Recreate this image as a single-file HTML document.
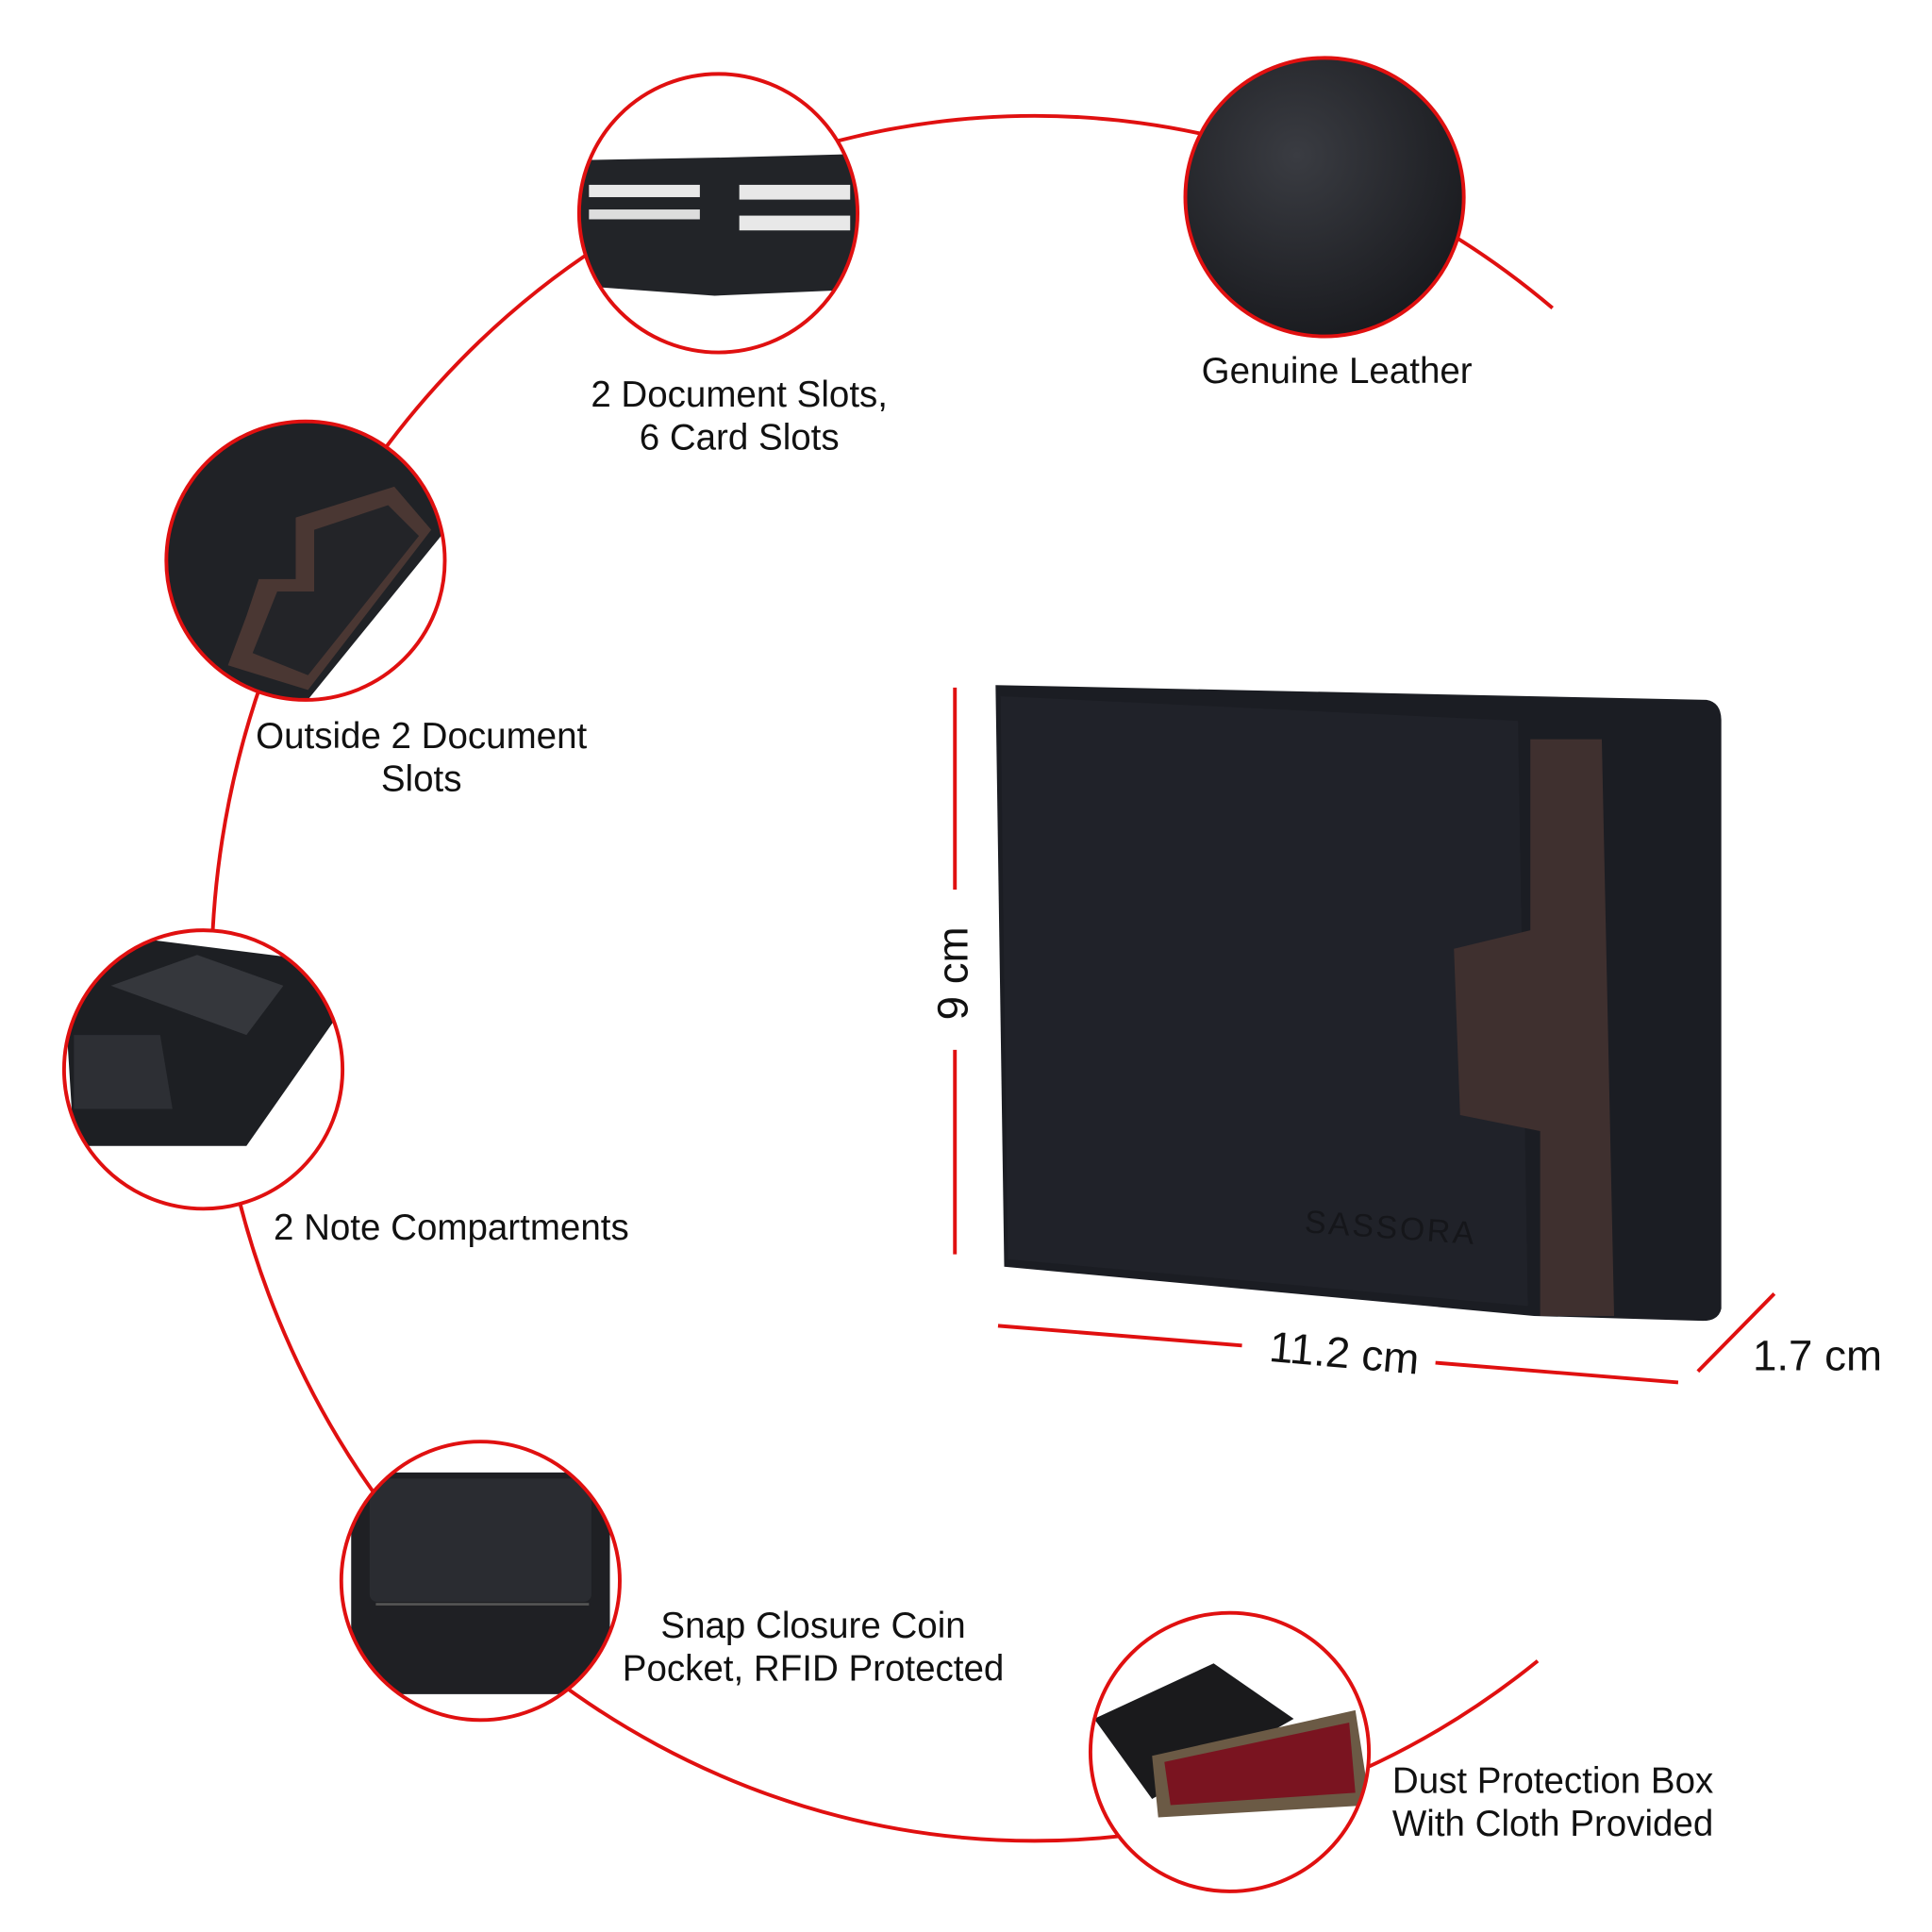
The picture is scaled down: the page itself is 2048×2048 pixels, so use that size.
<!DOCTYPE html>
<html><head><meta charset="utf-8"><style>
html,body{margin:0;padding:0;background:#fff;}
svg{display:block;}
text{font-family:"Liberation Sans",sans-serif;fill:#111;}
</style></head><body>
<svg width="2048" height="2048" viewBox="0 0 1568 1568" xmlns="http://www.w3.org/2000/svg">
<defs>
<radialGradient id="lg" cx="40%" cy="35%" r="75%"><stop offset="0" stop-color="#3a3c42"/><stop offset="1" stop-color="#16171b"/></radialGradient>
<clipPath id="c1"><circle cx="583" cy="173" r="112"/></clipPath>
<clipPath id="c3"><circle cx="248" cy="455" r="112"/></clipPath>
<clipPath id="c4"><circle cx="165" cy="868" r="112"/></clipPath>
<clipPath id="c5"><circle cx="390" cy="1283" r="112"/></clipPath>
<clipPath id="c6"><circle cx="998" cy="1422" r="112"/></clipPath>
</defs>
<!-- big arc -->
<path d="M1260 250 A668 700 0 1 0 1248 1348" fill="none" stroke="#e01010" stroke-width="3"/>

<circle cx="583" cy="173" r="113" fill="#fff"/>
<g clip-path="url(#c1)">
<path d="M470 130 L580 128 L695 125 L695 235 L580 240 L470 232Z" fill="#222428"/>
<rect x="478" y="150" width="90" height="10" fill="#e8e8e8"/>
<rect x="600" y="150" width="90" height="12" fill="#e8e8e8"/>
<rect x="600" y="175" width="90" height="12" fill="#e8e8e8"/>
<rect x="478" y="170" width="90" height="8" fill="#ddd"/>
</g>
<circle cx="583" cy="173" r="113" fill="none" stroke="#e01010" stroke-width="3"/>

<circle cx="1075" cy="160" r="113" fill="url(#lg)" stroke="#e01010" stroke-width="3"/>

<circle cx="248" cy="455" r="113" fill="#fff"/>
<g clip-path="url(#c3)">
<path d="M130 340 L330 340 L362 430 L240 580 L130 560Z" fill="#202226"/>
<path d="M210 470 L240 470 L240 420 L320 395 L350 430 L250 560 L185 540 L200 500 Z" fill="#4a3733"/>
<path d="M225 480 L255 480 L255 430 L315 410 L340 435 L250 548 L205 530Z" fill="#232428"/>
</g>
<circle cx="248" cy="455" r="113" fill="none" stroke="#e01010" stroke-width="3"/>

<circle cx="165" cy="868" r="113" fill="#fff"/>
<g clip-path="url(#c4)">
<path d="M52 800 L100 760 L260 780 L270 830 L200 930 L60 930Z" fill="#1d1f23"/>
<path d="M60 840 L130 840 L140 900 L60 900Z" fill="#2d2f34"/>
<path d="M90 800 L160 775 L230 800 L200 840Z" fill="#35373c"/>
</g>
<circle cx="165" cy="868" r="113" fill="none" stroke="#e01010" stroke-width="3"/>

<circle cx="390" cy="1283" r="113" fill="#fff"/>
<g clip-path="url(#c5)">
<rect x="285" y="1195" width="210" height="180" rx="10" fill="#1f2024"/>
<rect x="300" y="1200" width="180" height="100" rx="6" fill="#2a2c31"/>
<line x1="305" y1="1302" x2="478" y2="1302" stroke="#555" stroke-width="2"/>
</g>
<circle cx="390" cy="1283" r="113" fill="none" stroke="#e01010" stroke-width="3"/>

<circle cx="998" cy="1422" r="113" fill="#fff"/>
<g clip-path="url(#c6)">
<path d="M888 1395 L985 1350 L1050 1395 L935 1460Z" fill="#1a1a1c"/>
<path d="M935 1425 L1100 1388 L1112 1465 L940 1475Z" fill="#6b5a45"/>
<path d="M945 1430 L1095 1398 L1100 1455 L950 1465Z" fill="#7a1420"/>
</g>
<circle cx="998" cy="1422" r="113" fill="none" stroke="#e01010" stroke-width="3"/>

<path d="M808 556 L1385 568 Q1397 570 1397 585 L1397 1062 Q1395 1072 1382 1072 L1245 1068 L815 1028Z" fill="#1b1d23"/>
<path d="M812 565 L1232 585 L1240 1060 L818 1022Z" fill="#202229"/>
<path d="M1242 600 L1300 600 L1310 1068 L1250 1068 L1250 918 L1185 905 L1180 770 L1242 755Z" fill="#3f302f"/>
<text x="1128" y="1005" font-size="26" style="fill:#15161a" transform="rotate(4 1128 1005)" text-anchor="middle" letter-spacing="2">SASSORA</text>

<g stroke="#e01010" stroke-width="3">
<line x1="775" y1="558" x2="775" y2="722"/>
<line x1="775" y1="852" x2="775" y2="1018"/>
<line x1="810" y1="1076" x2="1008" y2="1092"/>
<line x1="1165" y1="1106" x2="1362" y2="1122"/>
<line x1="1378" y1="1113" x2="1440" y2="1050"/>
</g>
<text x="785" y="790" font-size="35" text-anchor="middle" transform="rotate(-90 785 790)">9 cm</text>
<text x="1090" y="1110" font-size="35" text-anchor="middle" transform="rotate(5 1090 1110)">11.2 cm</text>
<text x="1475" y="1112" font-size="35" text-anchor="middle">1.7 cm</text>

<g font-size="29.5">
<text x="600" y="330" text-anchor="middle">2 Document Slots,</text>
<text x="600" y="365" text-anchor="middle">6 Card Slots</text>
<text x="1085" y="311" text-anchor="middle">Genuine Leather</text>
<text x="342" y="607" text-anchor="middle">Outside 2 Document</text>
<text x="342" y="642" text-anchor="middle">Slots</text>
<text x="222" y="1006">2 Note Compartments</text>
<text x="660" y="1329" text-anchor="middle">Snap Closure Coin</text>
<text x="660" y="1364" text-anchor="middle">Pocket, RFID Protected</text>
<text x="1130" y="1455">Dust Protection Box</text>
<text x="1130" y="1490">With Cloth Provided</text>
</g>
</svg>
</body></html>
